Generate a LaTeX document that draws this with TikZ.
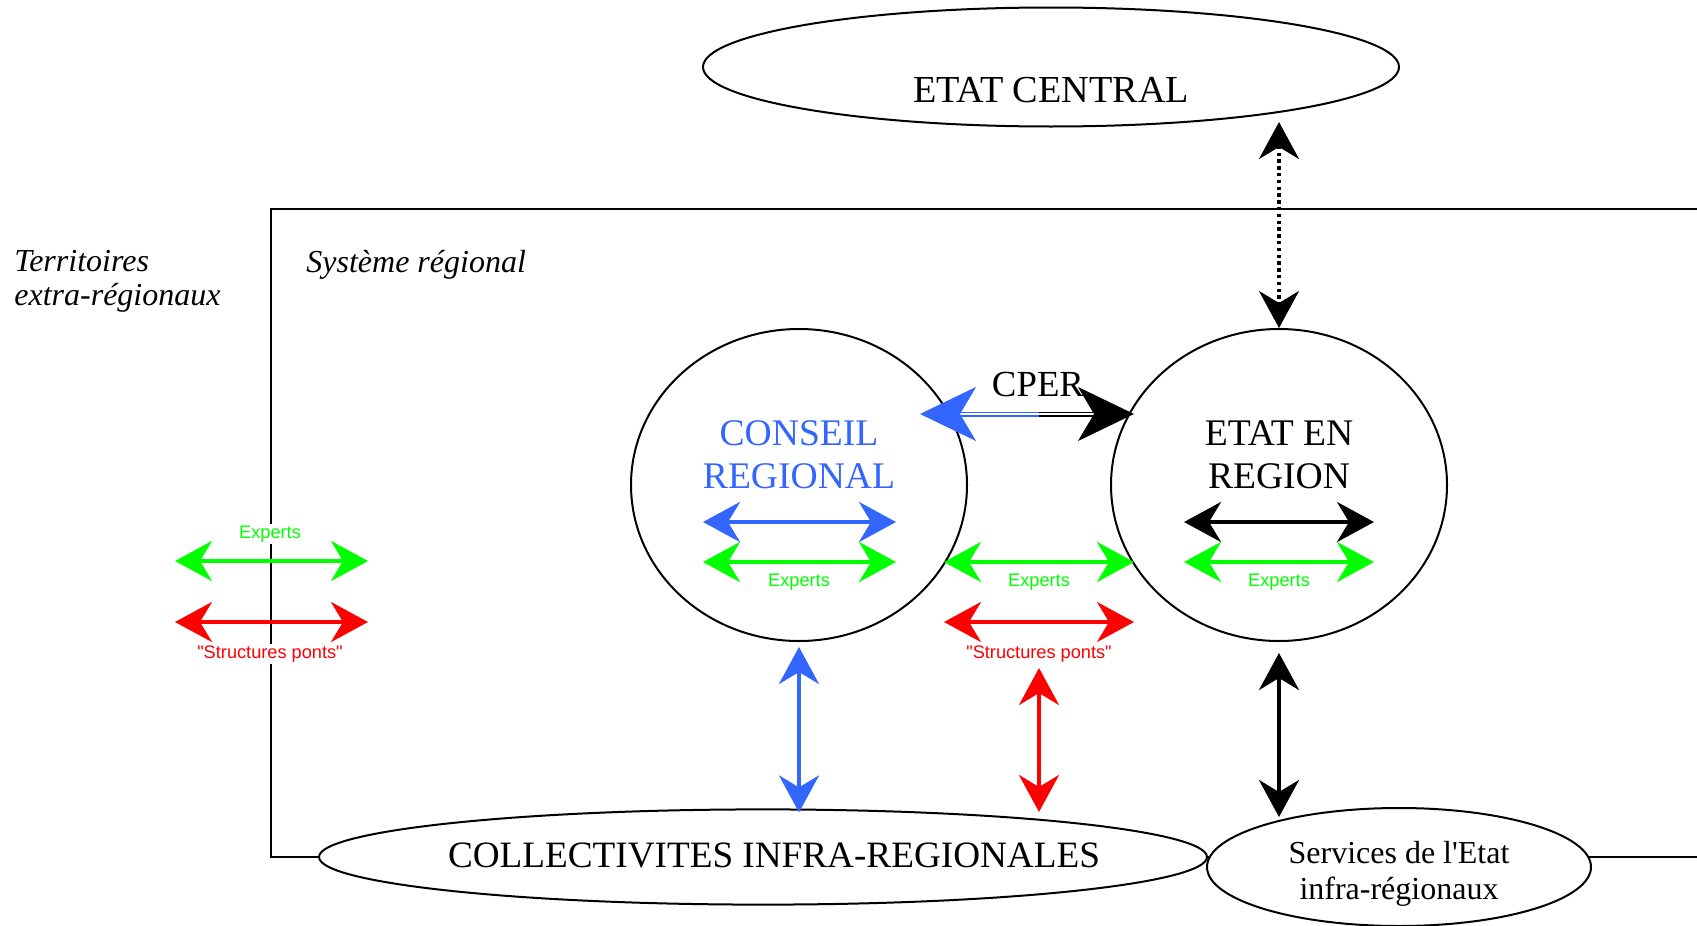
\documentclass[tikz,border=0pt]{standalone}
\usepackage{fontspec}
\setmainfont{Liberation Serif}
\newfontfamily\arialf{Liberation Sans}
\usetikzlibrary{arrows.meta,shapes.geometric,calc}
\definecolor{cblue}{RGB}{51,102,255}
\definecolor{cgreen}{RGB}{0,255,0}
\definecolor{cred}{RGB}{255,0,0}
\begin{document}
\begin{tikzpicture}[x=0.5pt,y=-0.5pt,
  oval/.style={draw, ellipse, line width=1pt, fill=white, inner sep=0pt},
  big/.style={font=\fontsize{18.8}{21.5}\selectfont, align=center, inner sep=0pt},
  mid/.style={font=\fontsize{16}{18}\selectfont, align=center, inner sep=0pt},
  ital/.style={font=\itshape\fontsize{16}{17}\selectfont, align=left, inner sep=0pt},
  small/.style={font=\arialf\fontsize{9.1}{11}\selectfont, inner sep=1pt},
  tipb/.tip={Stealth[length=18.5pt,width=20pt,inset=6pt]},
  tipc/.tip={Stealth[length=28pt,width=27pt,inset=8pt]},
  twoway/.style={line width=2pt, tipb-tipb},
  dotline/.style={line width=1.7pt, dash pattern=on 1.7pt off 1.7pt, tipb-tipb},
  cperline/.style={line width=0.85pt, double=white, double distance=0.8pt},
]
\useasboundingbox[fill=white] (0,0) rectangle (1697,926);

% frame of the regional system
\draw[line width=1pt] (1760,209) -| (270.6,857) -- (1760,857);

% ellipses
\node[oval, minimum width=348pt, minimum height=59.5pt] (ec) at (1051,67) {};
\node[oval, minimum width=168pt, minimum height=156pt] (cr) at (799,485) {};
\node[oval, minimum width=168pt, minimum height=156pt] (er) at (1279,485) {};
\node[oval, minimum width=444pt, minimum height=47.6pt] (coll) at (763,857) {};
\node[oval, minimum width=192pt, minimum height=59pt] (serv) at (1399,867) {};

% texts
\node[big, font=\fontsize{19.1}{22}\selectfont] (ect) at (1051,90) {ETAT CENTRAL};
\node[big, text=cblue] (crt) at (799,455) {CONSEIL\\REGIONAL};
\node[big] (ert) at (1279,455) {ETAT EN\\REGION};
\node[big, font=\fontsize{18.6}{21}\selectfont] (collt) at (774,855) {COLLECTIVITES INFRA-REGIONALES};
\node[mid] (servt) at (1399,874) {Services de l\textquotesingle Etat\\infra-régionaux};
\node[ital, anchor=west] (terr) at (14,281) {Territoires\\extra-régionaux};
\node[ital, anchor=west] (sys) at (306,265) {Système régional};
\node[big, font=\fontsize{18.4}{21}\selectfont] (cper) at (1038,384) {CPER};

% coordinates for free-standing arrows
\coordinate (ecb) at (1279,122);
\coordinate (cpl) at (920,414);
\coordinate (cpm) at (1039,414);
\coordinate (cpr) at (1134,414);
\coordinate (crbl) at (703,522);  \coordinate (crbr) at (896,522);
\coordinate (crgl) at (703,562);  \coordinate (crgr) at (896,562);
\coordinate (erbl) at (1184,522); \coordinate (erbr) at (1374,522);
\coordinate (ergl) at (1184,562); \coordinate (ergr) at (1374,562);
\coordinate (mgl) at (944,562);   \coordinate (mgr) at (1134,562);
\coordinate (mrl) at (944,622);   \coordinate (mrr) at (1134,622);
\coordinate (lgl) at (175,561);   \coordinate (lgr) at (368,561);
\coordinate (lrl) at (175,622);   \coordinate (lrr) at (368,622);
\coordinate (rvt) at (1039,668);  \coordinate (rvb) at (1039,812);
\coordinate (kvb) at (1279,817);

% dotted link to the central state
\draw[dotline] (ecb) -- (er.north);

% CPER double arrow
\draw[cperline, cblue, tipc-] (cpl) -- (cpm);
\draw[cperline, black, -tipc] (cpm) -- (cpr);

% arrows inside the circles
\draw[twoway, cblue] (crbl) -- (crbr);
\draw[twoway, cgreen] (crgl) -- (crgr);
\node[small, text=cgreen] (exp1) at (799,582) {Experts};
\draw[twoway, black] (erbl) -- (erbr);
\draw[twoway, cgreen] (ergl) -- (ergr);
\node[small, text=cgreen] (exp2) at (1279,582) {Experts};

% arrows between the circles
\draw[twoway, cgreen] (mgl) -- (mgr);
\node[small, text=cgreen] (exp3) at (1039,582) {Experts};
\draw[twoway, cred] (mrl) -- (mrr);
\node[small, text=cred] (sp1) at (1039,654) {"Structures ponts"};

% arrows across the frame border
\node[small, text=cgreen, fill=white] (exp4) at (270,534) {Experts};
\draw[twoway, cgreen] (lgl) -- (lgr);
\draw[twoway, cred] (lrl) -- (lrr);
\node[small, text=cred, fill=white] (sp2) at (270,654) {"Structures ponts"};

% vertical arrows
\draw[twoway, cblue, shorten <=2.5pt, shorten >=-2pt] (cr.south) -- (cr.south |- coll.north);
\draw[twoway, cred] (rvt) -- (rvb);
\draw[twoway, black, shorten <=5.5pt] (er.south) -- (kvb);
\end{tikzpicture}
\end{document}
